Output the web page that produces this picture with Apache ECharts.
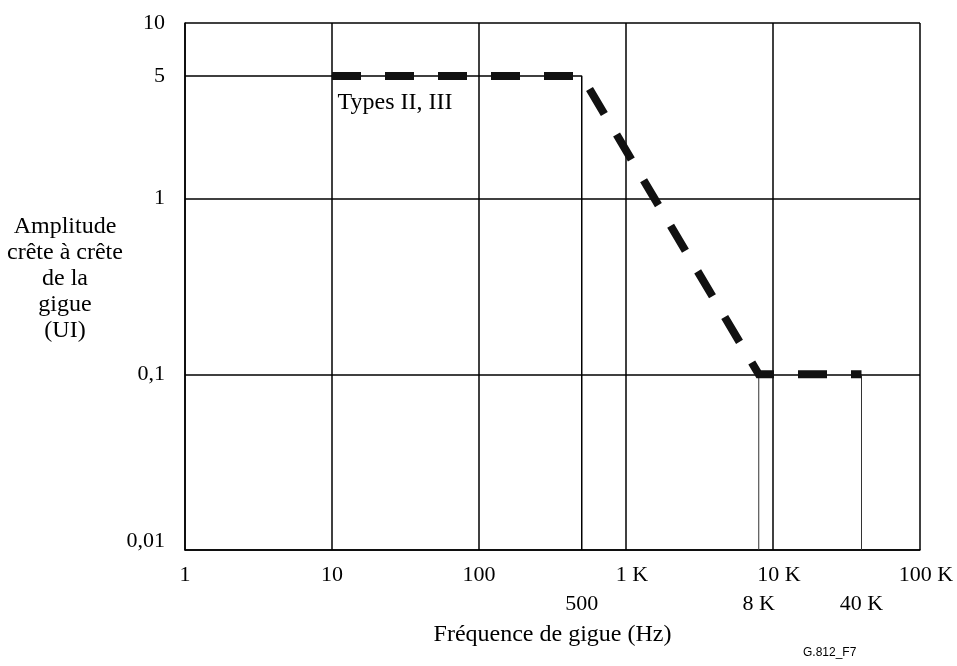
<!DOCTYPE html>
<html>
<head>
<meta charset="utf-8">
<script src="https://cdn.jsdelivr.net/npm/echarts@6/dist/echarts.min.js"></script>
<style>
  html, body { margin: 0; padding: 0; background: #fff; }
  #chart { width: 957px; height: 666px; }
</style>
</head>
<body>
<div id="chart"></div>
<script>
// Jitter tolerance mask: peak-to-peak jitter amplitude (UI) versus jitter frequency (Hz)
const freqTicks = [1, 10, 100, 1000, 10000, 100000];
const freqTickLabels = ['1', '10', '100', '1 K', '10 K', '100 K'];
const cornerFreqs = [500, 8000, 40000];
const cornerFreqLabels = ['500', '8 K', '40 K'];
const ampTicks = [0.01, 0.1, 1, 5, 10];
const ampTickLabels = ['0,01', '0,1', '1', '5', '10'];
const maskFreq = [10, 500, 8000, 40000];
const maskAmp = [5, 5, 0.1, 0.1];
const maskName = 'Types II, III';
const ampTitle = 'Amplitude\ncrête à crête\nde la\ngigue\n(UI)';
const freqTitle = 'Fréquence de gigue (Hz)';
const figureId = 'G.812_F7';

const FREQ_MIN = freqTicks[0];
const FREQ_MAX = freqTicks[freqTicks.length - 1];
const AMP_MIN = ampTicks[0];
const AMP_MAX = ampTicks[ampTicks.length - 1];

const SERIF = '"Liberation Serif", "Times New Roman", serif';
const INK = '#000';

function pickLabel(values, labels, v) {
  for (let i = 0; i < values.length; i++) {
    if (Math.abs(Math.log10(v) - Math.log10(values[i])) < 1e-6) return labels[i];
  }
  return '';
}

// Thousands labels carry a trailing "K"; nudge them so the number sits on the tick
function freqFormatter(v) {
  const s = pickLabel(freqTicks, freqTickLabels, v);
  return s.indexOf('K') >= 0 ? '{k|' + s + '}' : s;
}

function ampFormatter(v) {
  const s = pickLabel(ampTicks, ampTickLabels, v);
  return v === AMP_MIN ? '{low|' + s + '}' : s;
}

const maskData = maskFreq.map((f, i) => [f, maskAmp[i]]);
// Guide lines dropped from the mask corners
const guideMain = [[FREQ_MIN, maskAmp[1]], [maskFreq[1], maskAmp[1]], [maskFreq[1], AMP_MIN]];
const guideLow1 = [[maskFreq[2], maskAmp[2]], [maskFreq[2], AMP_MIN]];
const guideLow2 = [[maskFreq[3], maskAmp[3]], [maskFreq[3], AMP_MIN]];

const chart = echarts.init(document.getElementById('chart'), null, { renderer: 'canvas' });

chart.setOption({
  animation: false,
  backgroundColor: '#fff',
  textStyle: { fontFamily: SERIF, color: INK },
  title: [
    {
      text: ampTitle,
      left: 65,
      top: 214,
      padding: 0,
      textAlign: 'center',
      textStyle: { fontFamily: SERIF, fontSize: 24, fontWeight: 'normal', color: INK, lineHeight: 26 }
    },
    {
      text: figureId,
      left: 803,
      top: 647,
      padding: 0,
      textStyle: { fontFamily: '"Liberation Sans", Arial, sans-serif', fontSize: 12, fontWeight: 'normal', color: INK }
    }
  ],
  grid: { left: 185, right: 37, top: 23, bottom: 116, containLabel: false },
  xAxis: [
    {
      type: 'log',
      logBase: 10,
      min: FREQ_MIN,
      max: FREQ_MAX,
      position: 'bottom',
      name: freqTitle,
      nameLocation: 'middle',
      nameGap: 73,
      nameTextStyle: { fontFamily: SERIF, fontSize: 24, color: INK },
      axisLine: { show: true, lineStyle: { color: INK, width: 1.5 } },
      axisTick: { show: false },
      axisLabel: {
        show: true,
        margin: 14,
        fontFamily: SERIF,
        fontSize: 22,
        color: INK,
        formatter: freqFormatter,
        rich: { k: { fontFamily: SERIF, fontSize: 22, color: INK, padding: [0, 0, 0, 12] } }
      },
      splitLine: { show: true, lineStyle: { color: INK, width: 1.5 } }
    },
    {
      type: 'log',
      logBase: 10,
      min: FREQ_MIN,
      max: FREQ_MAX,
      position: 'bottom',
      axisLine: { show: false },
      axisTick: { show: false },
      splitLine: { show: false },
      axisLabel: {
        show: true,
        margin: 43,
        fontFamily: SERIF,
        fontSize: 22,
        color: INK,
        customValues: cornerFreqs,
        formatter: (v) => pickLabel(cornerFreqs, cornerFreqLabels, v)
      }
    }
  ],
  yAxis: {
    type: 'log',
    logBase: 10,
    min: AMP_MIN,
    max: AMP_MAX,
    axisLine: { show: true, lineStyle: { color: INK, width: 1.5 } },
    axisTick: { show: false },
    axisLabel: {
      show: true,
      margin: 20,
      fontFamily: SERIF,
      fontSize: 22,
      color: INK,
      customValues: ampTicks,
      formatter: ampFormatter,
      rich: { low: { fontFamily: SERIF, fontSize: 22, color: INK, padding: [0, 0, 18, 0] } }
    },
    splitLine: { show: true, lineStyle: { color: INK, width: 1.5 } }
  },
  series: [
    {
      name: 'guide-main',
      type: 'line',
      data: guideMain,
      symbol: 'none',
      silent: true,
      lineStyle: { color: INK, width: 1.5 },
      z: 1
    },
    {
      name: 'guide-low-1',
      type: 'line',
      data: guideLow1,
      symbol: 'none',
      silent: true,
      lineStyle: { color: '#333', width: 1 },
      z: 1
    },
    {
      name: 'guide-low-2',
      type: 'line',
      data: guideLow2,
      symbol: 'none',
      silent: true,
      lineStyle: { color: '#333', width: 1 },
      z: 1
    },
    {
      name: maskName,
      type: 'line',
      data: maskData,
      symbol: 'none',
      silent: true,
      lineStyle: { color: '#111', width: 8, type: [29, 24], cap: 'butt', join: 'miter' },
      z: 3
    },
    {
      name: 'mask-label',
      type: 'scatter',
      data: [maskData[0]],
      symbolSize: 1,
      itemStyle: { color: 'rgba(0,0,0,0)', opacity: 1 },
      silent: true,
      label: {
        show: true,
        position: 'right',
        distance: 5,
        offset: [0, 27],
        formatter: maskName,
        fontFamily: SERIF,
        fontSize: 24,
        color: INK,
        opacity: 1,
        textBorderWidth: 0
      },
      z: 4
    }
  ]
});
</script>
</body>
</html>
